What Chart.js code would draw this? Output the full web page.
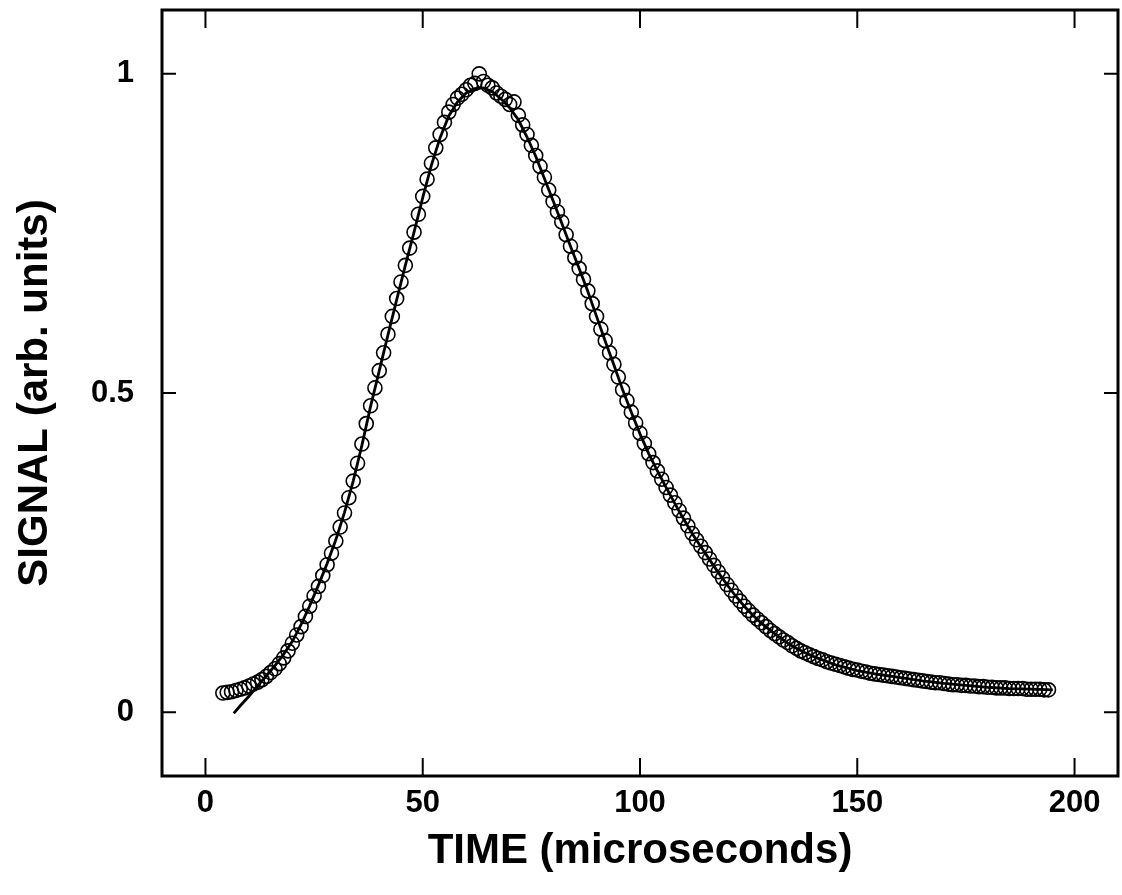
<!DOCTYPE html>
<html>
<head>
<meta charset="utf-8">
<title>Signal vs time</title>
<script src="https://cdn.jsdelivr.net/npm/chart.js@4.4.1/dist/chart.umd.min.js"></script>
<style>
  html, body { margin: 0; padding: 0; background: #fff; }
  canvas { display: block; }
</style>
</head>
<body>
<canvas id="signalChart" width="1122" height="895"></canvas>
<script>
// measured points (open circles), one every microsecond
const timeUs = [];
for (let t = 4; t <= 194; t++) timeUs.push(t);
const signal = [
  0.030, 0.031, 0.032, 0.034, 0.036, 0.038, 0.041, 0.044, 0.047, 0.051,
  0.056, 0.062, 0.068, 0.076, 0.085, 0.096, 0.108, 0.121, 0.134, 0.150,
  0.166, 0.182, 0.197, 0.214, 0.231, 0.249, 0.268, 0.290, 0.312, 0.336,
  0.362, 0.390, 0.420, 0.452, 0.480, 0.508, 0.535, 0.563, 0.592, 0.620,
  0.648, 0.674, 0.700, 0.727, 0.752, 0.780, 0.808, 0.835, 0.860, 0.884,
  0.905, 0.924, 0.940, 0.952, 0.962, 0.968, 0.975, 0.982, 0.985, 1.000,
  0.988, 0.982, 0.978, 0.970, 0.965, 0.960, 0.952, 0.956, 0.935, 0.920,
  0.905, 0.888, 0.872, 0.855, 0.838, 0.818, 0.800, 0.784, 0.768, 0.748,
  0.730, 0.712, 0.695, 0.678, 0.660, 0.640, 0.620, 0.600, 0.582, 0.563,
  0.545, 0.525, 0.505, 0.488, 0.470, 0.453, 0.437, 0.421, 0.405, 0.391,
  0.378, 0.365, 0.352, 0.340, 0.328, 0.316, 0.304, 0.292, 0.280, 0.270,
  0.260, 0.250, 0.240, 0.230, 0.220, 0.210, 0.200, 0.191, 0.182, 0.174,
  0.166, 0.159, 0.152, 0.146, 0.140, 0.134, 0.128, 0.123, 0.118, 0.113,
  0.109, 0.104, 0.100, 0.096, 0.093, 0.090, 0.087, 0.084, 0.082, 0.079,
  0.077, 0.075, 0.073, 0.071, 0.069, 0.067, 0.066, 0.064, 0.063, 0.061,
  0.060, 0.059, 0.058, 0.057, 0.056, 0.055, 0.054, 0.053, 0.052, 0.051,
  0.050, 0.049, 0.048, 0.047, 0.046, 0.046, 0.045, 0.044, 0.043, 0.043,
  0.042, 0.042, 0.041, 0.041, 0.040, 0.040, 0.039, 0.039, 0.038, 0.038,
  0.038, 0.037, 0.037, 0.037, 0.037, 0.036, 0.036, 0.036, 0.036, 0.035,
  0.035
];

// fitted curve (solid line)
const fitTime = [
  6.5, 8, 10, 12, 14, 16, 18, 20, 22, 24, 26, 28, 30, 32, 34, 36, 38, 40,
  42, 44, 46, 48, 50, 52, 54, 56, 58, 60, 62, 64, 66, 68, 70, 72, 74, 76,
  78, 80, 82, 84, 86, 88, 90, 92, 94, 96, 98, 100, 102, 104, 106, 108, 110,
  112, 114, 116, 118, 120, 122, 124, 126, 128, 130, 132, 134, 136, 138, 140,
  145, 150, 155, 160, 165, 170, 175, 180, 185, 190, 195
];
const fitSignal = [
  -0.002, 0.010, 0.025, 0.041, 0.057, 0.073, 0.091, 0.111, 0.137, 0.167,
  0.199, 0.233, 0.270, 0.313, 0.362, 0.418, 0.479, 0.535, 0.591, 0.646,
  0.700, 0.752, 0.806, 0.857, 0.900, 0.934, 0.956, 0.970, 0.977, 0.978,
  0.972, 0.961, 0.947, 0.928, 0.901, 0.871, 0.836, 0.801, 0.766, 0.730,
  0.695, 0.659, 0.620, 0.581, 0.544, 0.505, 0.470, 0.436, 0.405, 0.378,
  0.352, 0.327, 0.303, 0.280, 0.259, 0.239, 0.219, 0.200, 0.182, 0.166,
  0.152, 0.139, 0.128, 0.118, 0.108, 0.100, 0.093, 0.087, 0.074, 0.065,
  0.059, 0.054, 0.049, 0.045, 0.042, 0.039, 0.037, 0.036, 0.035
];

const xTicks = [0, 50, 100, 150, 200];
const yTicks = [0, 0.5, 1];

const FONT = '"Liberation Sans", Arial, Helvetica, sans-serif';

// box round the plot with inward ticks on all four sides
const framePlugin = {
  id: 'frame',
  afterDraw(chart) {
    const { ctx, chartArea: a, scales: { x, y } } = chart;
    ctx.save();
    ctx.strokeStyle = '#000';
    ctx.lineWidth = 2;
    ctx.beginPath();
    xTicks.forEach(v => {
      const px = x.getPixelForValue(v);
      ctx.moveTo(px, a.bottom); ctx.lineTo(px, a.bottom - 18);
      ctx.moveTo(px, a.top); ctx.lineTo(px, a.top + 18);
    });
    yTicks.forEach(v => {
      const py = y.getPixelForValue(v);
      ctx.moveTo(a.left, py); ctx.lineTo(a.left + 14, py);
      ctx.moveTo(a.right, py); ctx.lineTo(a.right - 14, py);
    });
    ctx.stroke();
    ctx.lineWidth = 3;
    ctx.strokeRect(a.left, a.top, a.right - a.left, a.bottom - a.top);
    ctx.restore();
  }
};

new Chart(document.getElementById('signalChart'), {
  type: 'scatter',
  data: {
    datasets: [
      {
        label: 'fit',
        data: fitTime.map((t, i) => ({ x: t, y: fitSignal[i] })),
        showLine: true,
        borderColor: '#000',
        borderWidth: 2.8,
        pointRadius: 0,
        tension: 0,
        order: 0
      },
      {
        label: 'signal',
        data: timeUs.map((t, i) => ({ x: t, y: signal[i] })),
        showLine: false,
        pointStyle: 'circle',
        pointRadius: 7,
        pointBorderWidth: 1.6,
        borderColor: '#000',
        backgroundColor: 'rgba(0,0,0,0)',
        order: 1
      }
    ]
  },
  options: {
    responsive: false,
    animation: false,
    layout: { autoPadding: false, padding: { top: 10, right: 4, left: 0, bottom: 0 } },
    plugins: { legend: { display: false }, tooltip: { enabled: false } },
    scales: {
      x: {
        type: 'linear',
        min: -10,
        max: 210,
        afterBuildTicks: s => { s.ticks = xTicks.map(v => ({ value: v })); },
        afterFit: s => { s.height = 119; s.paddingLeft = 0; s.paddingRight = 0; },
        grid: { display: false, drawTicks: false },
        border: { display: false },
        ticks: { color: '#000', padding: 9, font: { family: FONT, size: 31, weight: 'bold' } },
        title: {
          display: true,
          text: 'TIME (microseconds)',
          color: '#000',
          font: { family: FONT, size: 42, weight: 'bold' },
          padding: { top: 0, bottom: 18 }
        }
      },
      y: {
        min: -0.1,
        max: 1.1,
        afterBuildTicks: s => { s.ticks = yTicks.map(v => ({ value: v })); },
        afterFit: s => { s.width = 162; s.paddingTop = 0; s.paddingBottom = 0; },
        grid: { display: false, drawTicks: false },
        border: { display: false },
        ticks: {
          color: '#000',
          padding: 28,
          font: { family: FONT, size: 31, weight: 'bold' },
          callback: v => String(v)
        },
        title: {
          display: true,
          text: 'SIGNAL (arb. units)',
          color: '#000',
          font: { family: FONT, size: 42, weight: 'bold' },
          padding: { top: 10, bottom: 0 }
        }
      }
    }
  },
  plugins: [framePlugin]
});
</script>
</body>
</html>
